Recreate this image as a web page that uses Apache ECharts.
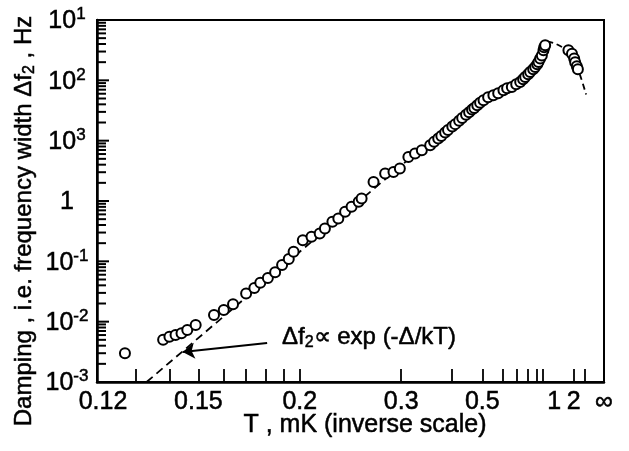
<!DOCTYPE html>
<html>
<head>
<meta charset="utf-8">
<script src="https://cdn.jsdelivr.net/npm/echarts@6/dist/echarts.min.js"></script>
<style>
  html, body { margin: 0; padding: 0; background: #fff; }
  #chart { width: 629px; height: 451px; }
</style>
</head>
<body>
<div id="chart"></div>
<script>
// Measured damping (frequency width) versus temperature
const tempMK = [0.127, 0.138, 0.140, 0.142, 0.144, 0.146, 0.149, 0.156, 0.160, 0.164,
  0.170, 0.174, 0.177, 0.181, 0.185, 0.189, 0.193, 0.196, 0.202, 0.208,
  0.214, 0.218, 0.224, 0.229, 0.235, 0.241, 0.248, 0.251, 0.264, 0.278,
  0.289, 0.298, 0.311, 0.322, 0.334, 0.350, 0.358, 0.367, 0.374, 0.383,
  0.390, 0.401, 0.409, 0.420, 0.429, 0.441, 0.451, 0.461, 0.469, 0.480,
  0.491, 0.505, 0.525, 0.550, 0.575, 0.605, 0.628, 0.660, 0.693, 0.726,
  0.752, 0.772, 0.802, 0.824, 0.859, 0.884, 0.911, 0.929, 0.953, 0.979,
  1.005, 1.017, 1.034, 1.71, 1.90, 2.04, 2.11, 2.24, 2.33];
const dampingHz = [0.0030, 0.0050, 0.0056, 0.0060, 0.0064, 0.0073, 0.0088, 0.0129, 0.0156, 0.0195,
  0.0294, 0.036, 0.044, 0.053, 0.066, 0.087, 0.109, 0.144, 0.224, 0.255,
  0.290, 0.351, 0.451, 0.513, 0.661, 0.80, 0.97, 1.10, 2.07, 2.85,
  3.03, 3.45, 5.37, 6.11, 6.93, 8.39, 9.55, 10.9, 12.0, 13.6,
  15.0, 17.1, 18.8, 21.4, 23.7, 26.9, 29.6, 32.7, 34.9, 38.5,
  42.4, 46.7, 52.3, 56.5, 60.9, 68.3, 73.8, 77.4, 85.9, 93.7,
  104, 114, 126, 137, 152, 166, 184, 201, 231, 259,
  314, 352, 380, 314, 277, 231, 199, 171, 152];

// Activated law  Δf2 ∝ exp(-Δ/kT): a straight line on these axes
const fitT = [0.133, 0.334];
const fitY = [0.001, 7.55];

// Curve through the normal-state side of the peak
const branchT = [1.07, 1.25, 1.45, 1.8, 2.55, 3.4];
const branchY = [443, 405, 356, 300, 121, 58];

// Axis ticks and labels
const xLabelT = [0.12, 0.15, 0.2, 0.3, 0.5, 1, 2, Infinity];
const xLabelText = ['0.12', '0.15', '0.2', '0.3', '0.5', '1', '2', '\u221e'];
const xMinorT = [0.13, 0.14, 0.16, 0.17, 0.18, 0.19, 0.4, 0.6, 0.7, 0.8, 0.9, 3.2];
const yDecades = [1e-3, 1e-2, 1e-1, 1, 1e1, 1e2, 1e3];
const yLabelExp = ['-3', '-2', '-1', '', '3', '2', '1'];

// Inverse temperature scale: position is linear in 1/T, T = ∞ sits at 0
const inv = t => (t === Infinity ? 0 : 1 / t);
const U_LEFT = inv(0.12);

// Logarithmic minor steps 2..9 inside every decade
const yMinor = [];
yDecades.slice(0, -1).forEach(d => { for (let k = 2; k <= 9; k++) yMinor.push(+(k * d).toPrecision(3)); });

const xLabelU = xLabelT.map(inv);
const FONT = '"Liberation Sans", Arial, Helvetica, sans-serif';
const INK = { textBorderColor: '#000', textBorderWidth: 0.5 };

// Inward tick comb on the left frame edge, placed through the log scale
const yTicks = yDecades.slice(1, -1).map(v => [U_LEFT * 0.999, v, 11])
  .concat(yMinor.map(v => [U_LEFT * 0.999, v, 8]));

const textGraphics = [
  { type: 'text', x: 24, y: 221, rotation: Math.PI / 2,
    style: { text: 'Damping , i.e. frequency width \u0394f{sub|2} , Hz', align: 'center', verticalAlign: 'middle',
      font: '24px ' + FONT, fill: '#000', stroke: '#000', lineWidth: 0.5,
      rich: { sub: { fontSize: 16, fontFamily: FONT, fill: '#000', stroke: '#000', lineWidth: 0.5, padding: [12, 0, 0, 0] } } } },
  { type: 'text', x: 365, y: 425,
    style: { text: 'T , mK (inverse scale)', align: 'center', verticalAlign: 'middle', font: '25px ' + FONT,
      fill: '#000', stroke: '#000', lineWidth: 0.5 } },
  { type: 'text', x: 282, y: 337,
    style: { text: '\u0394f{sub|2}\u221d exp (-\u0394/kT)', align: 'left', verticalAlign: 'middle', font: '24px ' + FONT,
      fill: '#000', stroke: '#000', lineWidth: 0.5,
      rich: { sub: { fontSize: 16, fontFamily: FONT, fill: '#000', stroke: '#000', lineWidth: 0.5, padding: [12, 0, 0, 0] } } } }
];

const chart = echarts.init(document.getElementById('chart'), null, { renderer: 'canvas' });

chart.setOption({
  animation: false,
  backgroundColor: '#fff',
  grid: { left: 97, top: 20, width: 507, height: 362, show: true, borderColor: '#000', borderWidth: 2, backgroundColor: 'transparent' },
  xAxis: {
    type: 'value', inverse: true, min: 0, max: U_LEFT,
    axisLine: { show: true, onZero: false, lineStyle: { color: '#000', width: 2.5 } },
    axisTick: { show: true, inside: true, length: 13, lineStyle: { color: '#000', width: 1.8 },
      customValues: xLabelT.concat(xMinorT).map(inv).filter(u => u > 0 && u < 8.3) },
    axisLabel: {
      customValues: xLabelU,
      margin: 8, color: '#000', fontFamily: FONT, fontSize: 25,
      formatter: v => {
        const i = xLabelU.findIndex(u => Math.abs(u - v) < 1e-6);
        if (i < 0) return '';
        if (i === 0) return '{l|' + xLabelText[i] + '}';
        if (i === 5) return '{r|' + xLabelText[i] + '}';
        return xLabelText[i];
      },
      rich: {
        l: Object.assign({ fontSize: 25, fontFamily: FONT, color: '#000', padding: [0, 0, 0, 12] }, INK),
        r: Object.assign({ fontSize: 25, fontFamily: FONT, color: '#000', padding: [0, 0, 0, 22] }, INK)
      },
      textBorderColor: '#000', textBorderWidth: 0.5
    },
    splitLine: { show: false }
  },
  yAxis: {
    type: 'log', min: 1e-3, max: 1e3, logBase: 10,
    axisLine: { show: true, onZero: false, lineStyle: { color: '#000', width: 2.5 } },
    axisTick: { show: false },
    axisLabel: {
      customValues: yDecades,
      margin: 30, align: 'center', color: '#000', fontFamily: FONT,
      formatter: v => {
        const e = yLabelExp[Math.round(Math.log10(v)) + 3];
        return e === '' ? '{b|1}' : '{b|10}{s|' + e + '}';
      },
      rich: {
        b: Object.assign({ fontSize: 25, fontFamily: FONT, color: '#000', lineHeight: 28, verticalAlign: 'bottom' }, INK),
        s: Object.assign({ fontSize: 17, fontFamily: FONT, color: '#000', lineHeight: 28, verticalAlign: 'top' }, INK)
      }
    },
    splitLine: { show: false }
  },
  graphic: textGraphics,
  series: [{
    type: 'line', name: 'fit',
    data: fitT.map((t, i) => [inv(t), fitY[i]]),
    symbol: 'none', silent: true, z: 1,
    lineStyle: { color: '#000', width: 1.8, type: [8, 5] },
    markLine: {
      silent: true, symbol: ['none', 'arrow'], symbolSize: 12,
      lineStyle: { color: '#000', width: 2, type: 'solid' },
      label: { show: false },
      data: [[{ coord: [inv(0.1806), 0.00443] }, { coord: [inv(0.1444), 0.00314] }]]
    }
  }, {
    type: 'line', name: 'branch',
    data: branchT.map((t, i) => [inv(t), branchY[i]]),
    symbol: 'none', silent: true, z: 1, smooth: 0.3,
    lineStyle: { color: '#000', width: 1.8, type: [6, 4] }
  }, {
    type: 'scatter', name: 'data',
    data: tempMK.map((t, i) => [inv(t), dampingHz[i]]),
    symbol: 'circle', symbolSize: 10, z: 3,
    itemStyle: { color: '#fff', borderColor: '#000', borderWidth: 2, opacity: 1 }
  }, {
    type: 'custom', name: 'yticks', silent: true, clip: false, zlevel: 1, z: 10,
    data: yTicks,
    encode: { x: 0, y: 1 },
    renderItem: (params, api) => {
      const p = api.coord([api.value(0), api.value(1)]);
      const x0 = params.coordSys.x + 1;
      return {
        type: 'line',
        shape: { x1: x0, y1: p[1], x2: x0 + api.value(2), y2: p[1] },
        style: { stroke: '#000', lineWidth: 2 }
      };
    }
  }]
});
</script>
</body>
</html>
